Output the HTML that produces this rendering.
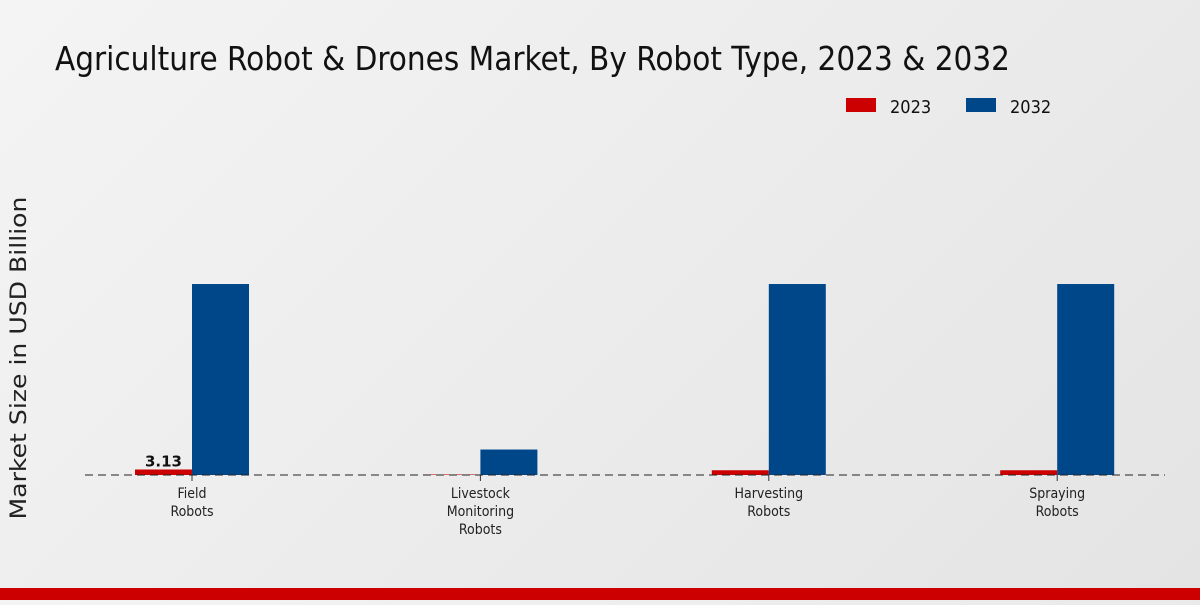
<!DOCTYPE html>
<html><head><meta charset="utf-8"><style>
body{margin:0;width:1200px;height:600px;overflow:hidden;font-family:"Liberation Sans","DejaVu Sans",sans-serif;background:linear-gradient(135deg,#f4f4f4,#e4e4e4);}
</style></head><body>
<svg width="1200" height="600" xmlns="http://www.w3.org/2000/svg">
<text x="55" y="70" font-size="33" fill="#111" font-family="DejaVu Sans Condensed, DejaVu Sans, sans-serif" textLength="955" lengthAdjust="spacingAndGlyphs">Agriculture Robot &amp; Drones Market, By Robot Type, 2023 &amp; 2032</text>
<g>
<rect x="846" y="98" width="30" height="14" fill="#cc0000"/>
<text x="890" y="113" font-size="18" fill="#111" font-family="DejaVu Sans Condensed, DejaVu Sans, sans-serif">2023</text>
<rect x="966" y="98" width="30" height="14" fill="#00478a"/>
<text x="1010" y="113" font-size="18" fill="#111" font-family="DejaVu Sans Condensed, DejaVu Sans, sans-serif">2032</text>
</g>
<text transform="translate(26,358) rotate(-90)" text-anchor="middle" font-size="22" fill="#222" font-family="DejaVu Sans, sans-serif" textLength="323" lengthAdjust="spacingAndGlyphs">Market Size in USD Billion</text>
<g id="plot"></g>
<line x1="85" y1="475" x2="1165" y2="475" stroke="#222" stroke-dasharray="8,5" stroke-width="1"/>
<rect x="0" y="588" width="1200" height="12" fill="#cc0000"/>
</svg>
<script>
const categories=[["Field","Robots"],["Livestock","Monitoring","Robots"],["Harvesting","Robots"],["Spraying","Robots"]];
const values2023=[3.13,0.3,2.7,2.7];
const values2032=[108.7,14.5,108.7,108.7];
const labels2023=["3.13",null,null,null];
const ns="http://www.w3.org/2000/svg";
const g=document.getElementById("plot");
const base=475,pxPer=1.757,x0=192,step=288.4,bw=57;
const y=v=>base-v*pxPer;
function mk(t,a){const e=document.createElementNS(ns,t);for(const k in a)e.setAttribute(k,a[k]);g.appendChild(e);return e;}
categories.forEach((c,i)=>{
 const cx=x0+i*step;
 const r1=mk("rect",{x:cx-bw,y:y(values2023[i]),width:bw,height:values2023[i]*pxPer,fill:"#cc0000"});
 
 
 const r2=mk("rect",{x:cx,y:y(values2032[i]),width:bw,height:values2032[i]*pxPer,fill:"#00478a"});
 
 
 const tk=mk("line",{x1:cx,y1:475,x2:cx,y2:481,stroke:"#333"});
 
 
 c.forEach((w,j)=>{
  const t=mk("text",{x:cx,y:498+j*18,"text-anchor":"middle","font-size":"14",fill:"#222","font-family":"DejaVu Sans Condensed, DejaVu Sans, sans-serif"});
  t.textContent=w;
  
  
 });
 if(labels2023[i]){
  const t=mk("text",{x:cx-bw/2,y:y(values2023[i])-3,"text-anchor":"middle","font-size":"15","font-weight":"bold",fill:"#111","font-family":"DejaVu Sans, sans-serif"});
  t.textContent=labels2023[i];
  
  
 }
});
</script>
</body></html>
